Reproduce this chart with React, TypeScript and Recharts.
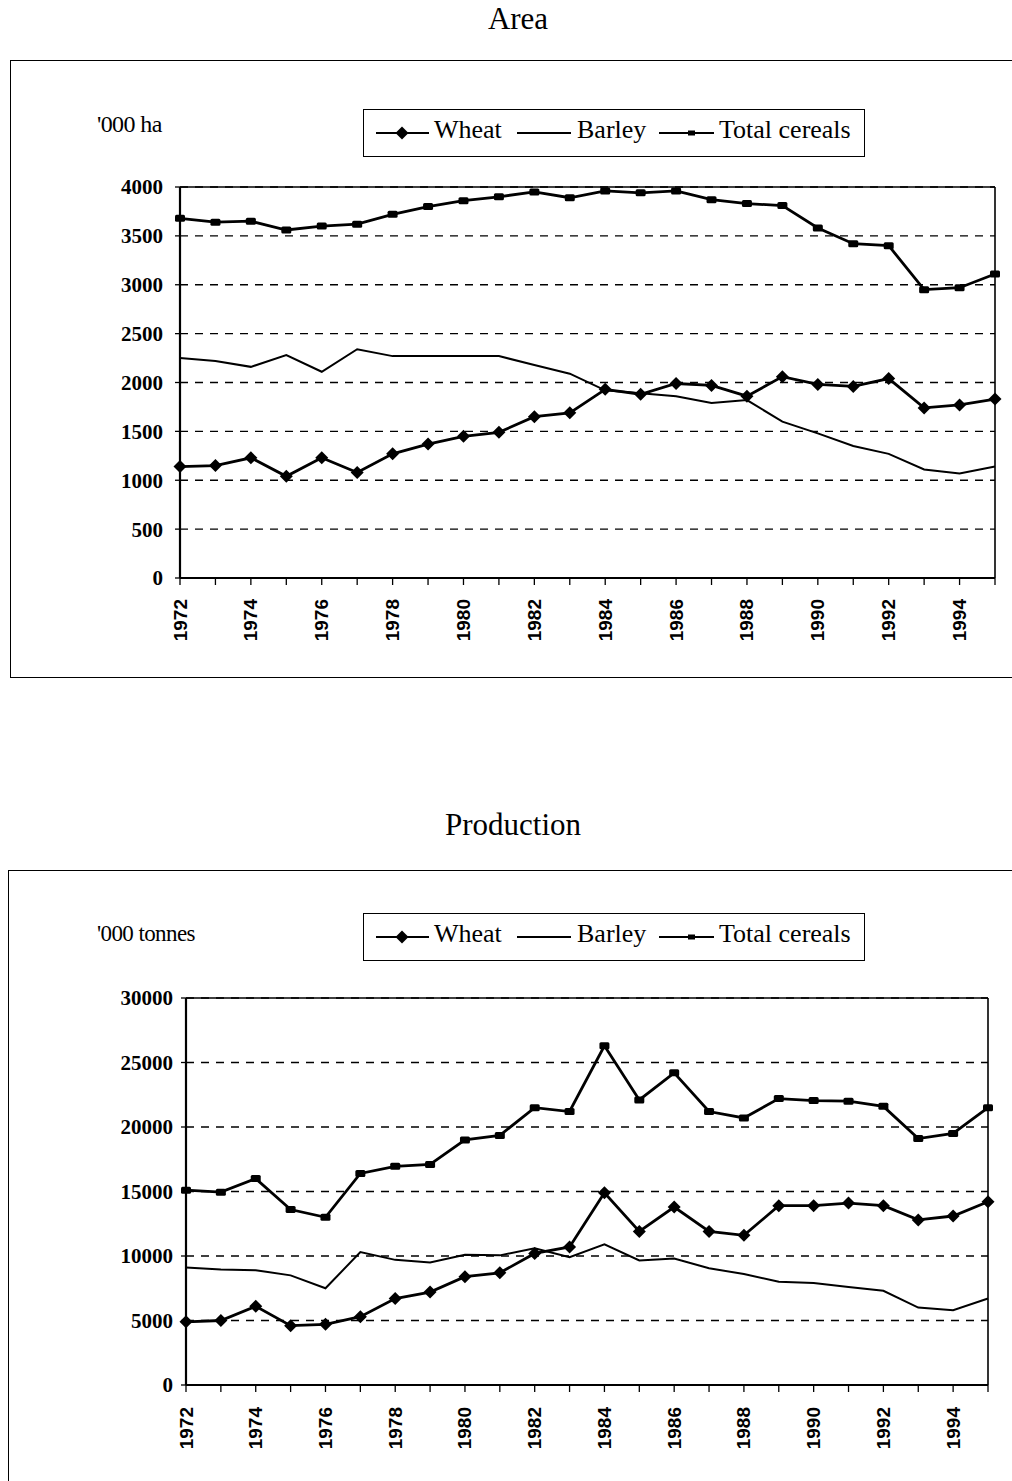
import React from 'react';
import {
  LineChart,
  Line,
  XAxis,
  YAxis,
  CartesianGrid,
  ReferenceLine,
} from 'recharts';

const years = [
  1972, 1973, 1974, 1975, 1976, 1977, 1978, 1979, 1980, 1981, 1982, 1983,
  1984, 1985, 1986, 1987, 1988, 1989, 1990, 1991, 1992, 1993, 1994, 1995,
];

// '000 ha
const areaWheat = [
  1140, 1150, 1230, 1040, 1230, 1080, 1270, 1370, 1450, 1490, 1650, 1690,
  1930, 1880, 1990, 1970, 1860, 2060, 1980, 1960, 2040, 1740, 1770, 1830,
];
const areaBarley = [
  2250, 2220, 2160, 2280, 2110, 2340, 2270, 2270, 2270, 2270, 2180, 2090,
  1920, 1890, 1860, 1790, 1820, 1600, 1480, 1350, 1270, 1110, 1070, 1140,
];
const areaTotal = [
  3680, 3640, 3650, 3560, 3600, 3620, 3720, 3800, 3860, 3900, 3950, 3890,
  3960, 3940, 3960, 3870, 3830, 3810, 3580, 3420, 3400, 2950, 2970, 3110,
];

// '000 tonnes
const prodWheat = [
  4900, 5000, 6100, 4600, 4700, 5300, 6700, 7200, 8400, 8700, 10200, 10700,
  14900, 11900, 13800, 11900, 11600, 13900, 13900, 14100, 13900, 12800, 13100, 14200,
];
const prodBarley = [
  9100, 8950, 8900, 8500, 7500, 10300, 9700, 9500, 10100, 10050, 10600, 9900,
  10900, 9650, 9800, 9050, 8600, 8000, 7900, 7600, 7300, 6000, 5800, 6700,
];
const prodTotal = [
  15100, 14950, 16000, 13600, 13000, 16400, 16950, 17100, 19000, 19350, 21500, 21200,
  26300, 22100, 24200, 21200, 20700, 22200, 22050, 22000, 21600, 19100, 19500, 21500,
];

const areaTicks = [0, 500, 1000, 1500, 2000, 2500, 3000, 3500, 4000];
const prodTicks = [0, 5000, 10000, 15000, 20000, 25000, 30000];

const SERIF = '"Liberation Serif", "Times New Roman", serif';
const SANS = '"Liberation Sans", Arial, sans-serif';

const buildData = (wheat: number[], barley: number[], total: number[]) =>
  years.map((year, i) => ({ year, wheat: wheat[i], barley: barley[i], total: total[i] }));

const areaData = buildData(areaWheat, areaBarley, areaTotal);
const prodData = buildData(prodWheat, prodBarley, prodTotal);

const Diamond = (props: any) => {
  const { cx, cy } = props;
  if (cx == null || cy == null) return <g />;
  const r = 6.5;
  return (
    <polygon
      points={`${cx},${cy - r} ${cx + r},${cy} ${cx},${cy + r} ${cx - r},${cy}`}
      fill="#000"
    />
  );
};

const SmallSquare = (props: any) => {
  const { cx, cy } = props;
  if (cx == null || cy == null) return <g />;
  return <rect x={cx - 5} y={cy - 3.5} width={10} height={7} rx={1.5} fill="#000" />;
};

const makeYearTick = (gap: number) => (props: any) => {
  const { x, y, payload } = props;
  if (payload.value % 2 !== 0) return <g />;
  const ty = y + gap;
  return (
    <text
      x={x}
      y={ty}
      transform={`rotate(-90, ${x}, ${ty})`}
      textAnchor="end"
      dominantBaseline="central"
      fontFamily={SANS}
      fontWeight="bold"
      fontSize={19}
      fill="#000"
    >
      {payload.value}
    </text>
  );
};

const LegendBox: React.FC<{ left: number; top: number }> = ({ left, top }) => (
  <div
    style={{
      position: 'absolute',
      left,
      top,
      width: 502,
      height: 48,
      border: '1.5px solid #000',
      boxSizing: 'border-box',
    }}
  >
    <svg width={502} height={48} style={{ position: 'absolute', left: 0, top: 0 }}>
      <line x1={12} y1={23} x2={65} y2={23} stroke="#000" strokeWidth={2.2} />
      <Diamond cx={38} cy={23} />
      <text x={70} y={28} fontFamily={SERIF} fontSize={26} fill="#000">Wheat</text>
      <line x1={153} y1={23} x2={207} y2={23} stroke="#000" strokeWidth={1.8} />
      <text x={213} y={28} fontFamily={SERIF} fontSize={26} fill="#000">Barley</text>
      <line x1={295} y1={23} x2={350} y2={23} stroke="#000" strokeWidth={2.2} />
      <rect x={324} y={20.5} width={7} height={5} fill="#000" />
      <text x={355} y={28} fontFamily={SERIF} fontSize={26} fill="#000">Total cereals</text>
    </svg>
  </div>
);

interface PanelProps {
  data: typeof areaData;
  yTicks: number[];
  yMax: number;
  top: number;
  height: number;
  margin: { top: number; right: number; bottom: number; left: number };
  tickMargin: number;
  labelGap: number;
}

const Panel: React.FC<PanelProps> = ({ data, yTicks, yMax, top, height, margin, tickMargin, labelGap }) => (
  <div style={{ position: 'absolute', left: 0, top }}>
    <LineChart width={1012} height={height} data={data} margin={margin}>
      <CartesianGrid
        horizontal
        vertical={false}
        stroke="#000"
        strokeWidth={1.3}
        strokeDasharray="8 7"
      />
      <XAxis
        dataKey="year"
        type="number"
        domain={[1972, 1995]}
        ticks={years}
        interval={0}
        height={85}
        axisLine={{ stroke: '#000', strokeWidth: 2.2 }}
        tickLine={{ stroke: '#000', strokeWidth: 1.3 }}
        tickSize={7}
        tick={makeYearTick(labelGap)}
      />
      <YAxis
        type="number"
        domain={[0, yMax]}
        ticks={yTicks}
        interval={0}
        width={70}
        axisLine={{ stroke: '#000', strokeWidth: 2.2 }}
        tickLine={{ stroke: '#000', strokeWidth: 1.3 }}
        tickSize={5}
        tickMargin={tickMargin}
        tick={{ fill: '#000', fontFamily: SERIF, fontWeight: 'bold', fontSize: 21 }}
      />
      <ReferenceLine y={yMax} stroke="#000" strokeWidth={1.6} />
      <ReferenceLine x={1995} stroke="#000" strokeWidth={1.6} />
      <Line
        dataKey="barley"
        stroke="#000"
        strokeWidth={2}
        dot={false}
        isAnimationActive={false}
      />
      <Line
        dataKey="total"
        stroke="#000"
        strokeWidth={2.8}
        dot={<SmallSquare />}
        isAnimationActive={false}
      />
      <Line
        dataKey="wheat"
        stroke="#000"
        strokeWidth={2.8}
        dot={<Diamond />}
        isAnimationActive={false}
      />
    </LineChart>
  </div>
);

const titleStyle: React.CSSProperties = {
  position: 'absolute',
  left: 0,
  textAlign: 'center',
  fontFamily: SERIF,
  fontSize: 31,
  lineHeight: '36px',
  color: '#000',
};

const unitStyle: React.CSSProperties = {
  position: 'absolute',
  left: 97,
  fontFamily: SERIF,
  lineHeight: 1,
  color: '#000',
  letterSpacing: -0.6,
};

const App: React.FC = () => (
  <div
    style={{
      position: 'absolute',
      left: 0,
      top: 0,
      width: 1012,
      height: 1481,
      overflow: 'hidden',
      background: '#fff',
    }}
  >
    <div style={{ ...titleStyle, top: 1, width: 1036 }}>Area</div>
    <div
      style={{
        position: 'absolute',
        left: 10,
        top: 60,
        width: 1010,
        height: 618,
        border: '1.5px solid #000',
        boxSizing: 'border-box',
      }}
    />
    <div style={{ ...unitStyle, top: 112, fontSize: 24 }}>'000 ha</div>
    <LegendBox left={363} top={109} />
    <Panel
      data={areaData}
      yTicks={areaTicks}
      yMax={4000}
      top={170}
      height={493}
      margin={{ top: 17, right: 17, bottom: 0, left: 110 }}
      tickMargin={12}
      labelGap={12}
    />

    <div style={{ ...titleStyle, top: 807, width: 1026 }}>Production</div>
    <div
      style={{
        position: 'absolute',
        left: 8,
        top: 870,
        width: 1012,
        height: 640,
        border: '1.5px solid #000',
        boxSizing: 'border-box',
      }}
    />
    <div style={{ ...unitStyle, top: 922, fontSize: 23 }}>'000 tonnes</div>
    <LegendBox left={363} top={913} />
    <Panel
      data={prodData}
      yTicks={prodTicks}
      yMax={30000}
      top={980}
      height={490}
      margin={{ top: 18, right: 24, bottom: 0, left: 116 }}
      tickMargin={8}
      labelGap={13}
    />
  </div>
);

export default App;
